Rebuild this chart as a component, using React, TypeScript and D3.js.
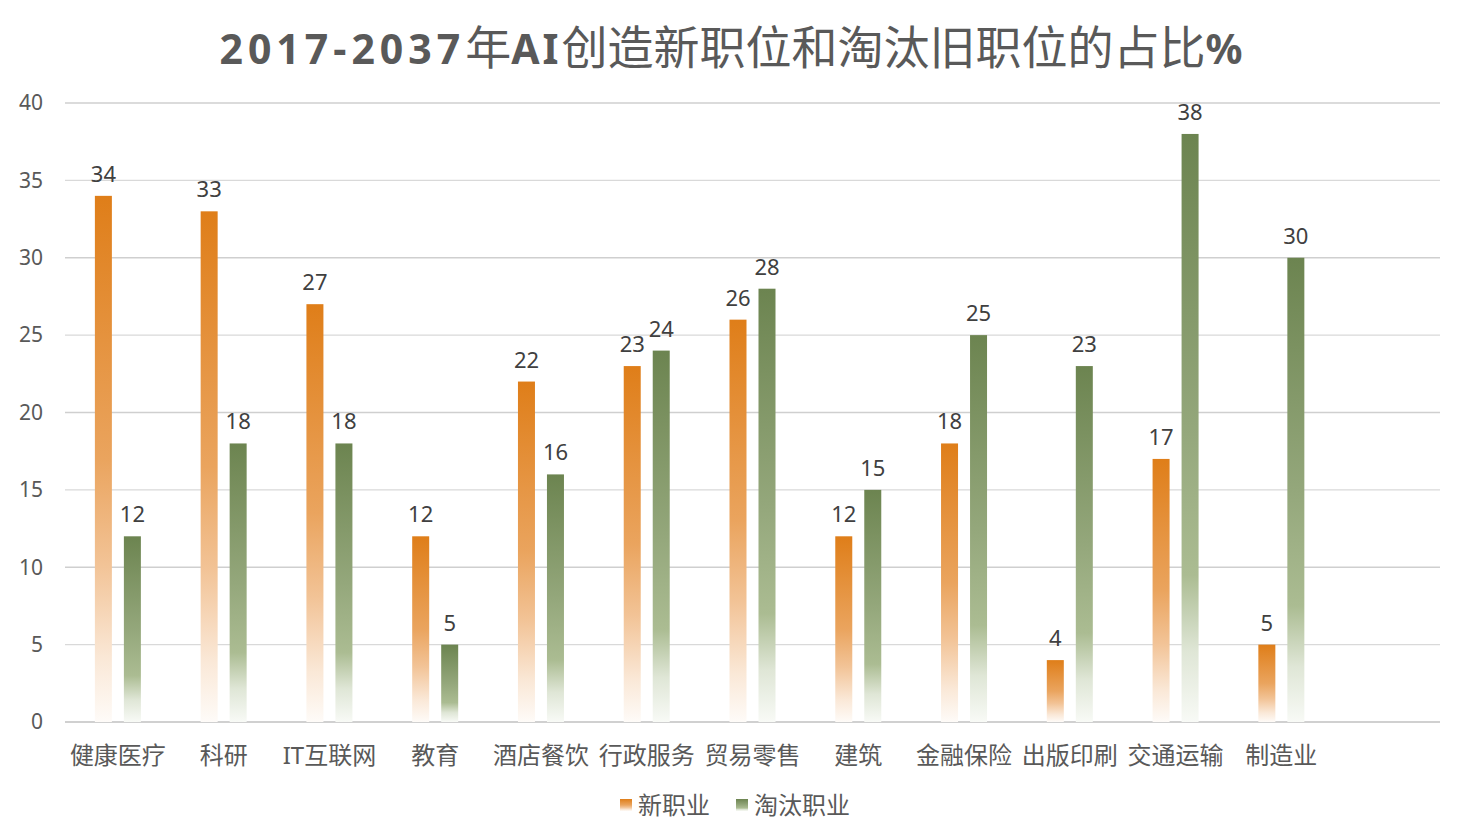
import React from "react";
import * as d3 from "d3";

const categories = ["健康医疗", "科研", "IT互联网", "教育", "酒店餐饮", "行政服务", "贸易零售", "建筑", "金融保险", "出版印刷", "交通运输", "制造业", ""];
const newJobs = [34, 33, 27, 12, 22, 23, 26, 12, 18, 4, 17, 5];
const lostJobs = [12, 18, 18, 5, 16, 24, 28, 15, 25, 23, 38, 30];
const yTicks = [0, 5, 10, 15, 20, 25, 30, 35, 40];
const seriesNames = ["新职业", "淘汰职业"];

const W = 1463;
const H = 839;
const FONT = "'Noto Sans', 'Noto Sans CJK SC', sans-serif";

export default function App() {
  const x = d3.scaleBand().domain(categories).range([65, 1440]).padding(0);
  const y = d3.scaleLinear().domain([0, 40]).range([722, 103]);
  const barW = 17;
  const off = 14.5;

  const series = [
    { name: seriesNames[0], values: newJobs, dx: -off, grad: "gOrange" },
    { name: seriesNames[1], values: lostJobs, dx: off, grad: "gGreen" },
  ];

  return (
    <div style={{ position: "fixed", left: 0, top: 0 }}>
      <svg width={W} height={H} style={{ display: "block", background: "#fff" }}>
        <defs>
          <linearGradient id="gOrange" x1="0" y1="0" x2="0" y2="1">
            <stop offset="0" stopColor="#df7e19" />
            <stop offset="0.5" stopColor="#eaa45e" />
            <stop offset="0.7" stopColor="#f2c396" />
            <stop offset="0.88" stopColor="#fae8d7" />
            <stop offset="1" stopColor="#fefbf8" />
          </linearGradient>
          <linearGradient id="gGreen" x1="0" y1="0" x2="0" y2="1">
            <stop offset="0" stopColor="#6c8450" />
            <stop offset="0.5" stopColor="#94a77b" />
            <stop offset="0.75" stopColor="#abbc92" />
            <stop offset="0.88" stopColor="#dfe6d6" />
            <stop offset="1" stopColor="#f8faf6" />
          </linearGradient>
        </defs>

        <text x={731} y={64} textAnchor="middle" fill="#595959" fontFamily={FONT} fontSize={46}>
          <tspan fontWeight="bold" fontSize={41} letterSpacing={5}>2017-2037</tspan>
          <tspan>年</tspan>
          <tspan fontWeight="bold" fontSize={41} letterSpacing={3}>AI</tspan>
          <tspan>创造新职位和淘汰旧职位的占比</tspan>
          <tspan fontWeight="bold" fontSize={41}>%</tspan>
        </text>

        {yTicks.map((t) => (
          <g key={t}>
            <line
              x1={65}
              x2={1440}
              y1={y(t)}
              y2={y(t)}
              stroke={t === 0 ? "#d0d0d0" : t % 10 === 0 ? "#cfcfcf" : "#d9d9d9"}
              strokeWidth={t === 0 ? 2 : 1.3}
            />
            <text x={43} y={y(t)} dy="0.35em" textAnchor="end" fill="#595959" fontFamily={FONT} fontSize={21}>
              {t}
            </text>
          </g>
        ))}

        {series.map((s) =>
          s.values.map((v, i) => {
            const cx = (x(categories[i]) ?? 0) + x.bandwidth() / 2 + s.dx;
            return (
              <g key={s.name + i}>
                <rect x={cx - barW / 2} y={y(v)} width={barW} height={y(0) - y(v)} fill={`url(#${s.grad})`} />
                <text x={cx} y={y(v) - 14} textAnchor="middle" fill="#404040" fontFamily={FONT} fontSize={22}>
                  {v}
                </text>
              </g>
            );
          })
        )}

        {categories.map((c) => (
          <text
            key={c}
            x={(x(c) ?? 0) + x.bandwidth() / 2}
            y={764}
            textAnchor="middle"
            fill="#595959"
            fontFamily={FONT}
            fontSize={24}
          >
            {c}
          </text>
        ))}

        {series.map((s, i) => {
          const lx = i === 0 ? 620 : 736;
          return (
            <g key={s.name}>
              <rect x={lx} y={799} width={12} height={12} fill={`url(#${s.grad})`} />
              <text x={lx + 18} y={814} fill="#595959" fontFamily={FONT} fontSize={24}>
                {s.name}
              </text>
            </g>
          );
        })}
      </svg>
    </div>
  );
}
